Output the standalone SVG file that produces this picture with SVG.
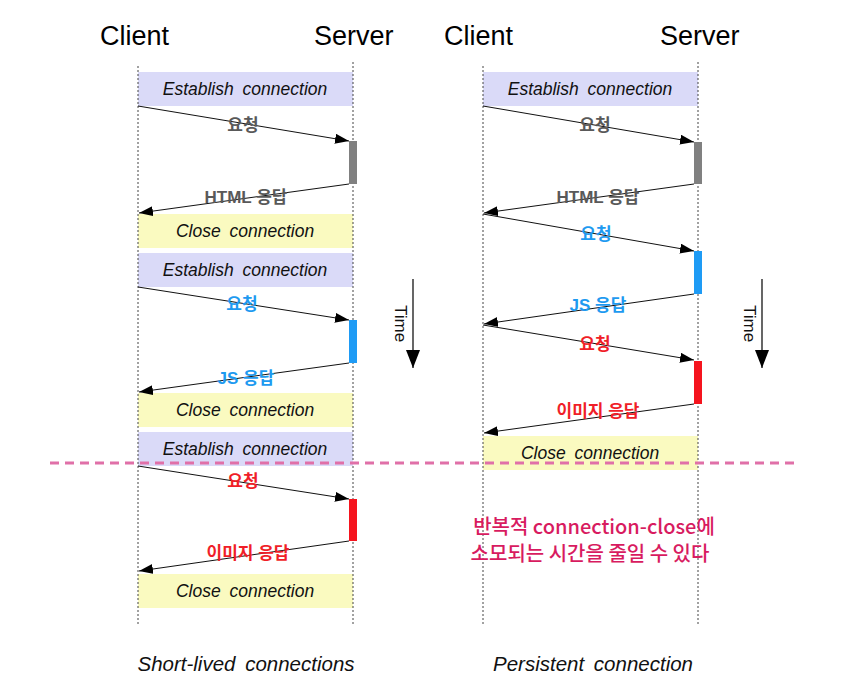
<svg xmlns="http://www.w3.org/2000/svg" width="857" height="698" viewBox="0 0 857 698">
<style>
.title{font-family:"Liberation Sans",Arial,sans-serif;font-size:27px;fill:#000}
.box{font-family:"Liberation Sans",Arial,sans-serif;font-size:17.5px;font-style:italic;fill:#111;text-anchor:middle;word-spacing:4px}
.est{fill:#dadaf8}
.cls{fill:#fafac0}
.life{stroke:#444;stroke-width:1;stroke-dasharray:2,2;fill:none}
.msg{stroke:#111;stroke-width:1;fill:none;marker-end:url(#ah)}
.lbl{font-family:"Liberation Sans","Noto Sans CJK KR",Arial,sans-serif;font-size:17px;font-weight:bold;text-anchor:middle}
.g{fill:#595959}.b{fill:#1e9af0}.r{fill:#f01e28}
.cap{font-family:"Liberation Sans",Arial,sans-serif;font-size:20.5px;font-style:italic;fill:#111;text-anchor:middle;word-spacing:4px}
.note{font-family:"Noto Sans CJK KR","Liberation Sans",sans-serif;font-size:20px;font-weight:500;fill:#d81b60;text-anchor:middle}
.time{font-family:"Liberation Sans",Arial,sans-serif;font-size:17px;fill:#111}
</style>
<defs>
<marker id="ah" viewBox="0 0 14 10" refX="14" refY="5" markerWidth="14" markerHeight="10" markerUnits="userSpaceOnUse" orient="auto">
<path d="M0,0 L14,5 L0,10 Z" fill="#000"/>
</marker>
<marker id="ta" viewBox="0 0 14 18" refX="7" refY="18" markerWidth="14" markerHeight="18" markerUnits="userSpaceOnUse" orient="0">
<path d="M0,0 L14,0 L7,18 Z" fill="#000"/>
</marker>
</defs>

<g id="titles">
<text class="title" x="100" y="45">Client</text>
<text class="title" x="314" y="45">Server</text>
<text class="title" x="444" y="45">Client</text>
<text class="title" x="660" y="45">Server</text>
</g>

<g id="boxes-left">
<g id="l-est1"><rect class="est" x="138" y="72" width="215" height="34"/><text class="box" x="245" y="95">Establish connection</text></g>
<g id="l-cls1"><rect class="cls" x="138" y="214" width="215" height="34"/><text class="box" x="245" y="237">Close connection</text></g>
<g id="l-est2"><rect class="est" x="138" y="253" width="215" height="34"/><text class="box" x="245" y="276">Establish connection</text></g>
<g id="l-cls2"><rect class="cls" x="138" y="393" width="215" height="34"/><text class="box" x="245" y="416">Close connection</text></g>
<g id="l-est3"><rect class="est" x="138" y="432" width="215" height="34"/><text class="box" x="245" y="455">Establish connection</text></g>
<g id="l-cls3"><rect class="cls" x="138" y="574" width="215" height="34"/><text class="box" x="245" y="597">Close connection</text></g>
</g>

<g id="boxes-right">
<g id="r-est1"><rect class="est" x="483" y="72" width="215" height="34"/><text class="box" x="590" y="95">Establish connection</text></g>
<g id="r-cls1"><rect class="cls" x="483" y="436" width="215" height="34"/><text class="box" x="590" y="459">Close connection</text></g>
</g>

<g id="lifelines">
<line class="life" x1="138" y1="66" x2="138" y2="625"/>
<line class="life" x1="353" y1="62" x2="353" y2="625"/>
<line class="life" x1="483" y1="66" x2="483" y2="625"/>
<line class="life" x1="698" y1="62" x2="698" y2="625"/>
</g>

<g id="bars">
<rect x="349" y="141" width="8" height="43" fill="#808080"/>
<rect x="349" y="320" width="8" height="43" fill="#1e9bf5"/>
<rect x="349" y="499" width="8" height="42" fill="#f5141e"/>
<rect x="694" y="142" width="8" height="42" fill="#808080"/>
<rect x="694" y="251" width="8" height="43" fill="#1e9bf5"/>
<rect x="694" y="361" width="8" height="43" fill="#f5141e"/>
</g>

<g id="connectors">
<line class="msg" x1="138" y1="106" x2="349" y2="141"/>
<line class="msg" x1="349" y1="184" x2="139" y2="213"/>
<line class="msg" x1="138" y1="287" x2="349" y2="320"/>
<line class="msg" x1="349" y1="363" x2="139" y2="392"/>
<line class="msg" x1="138" y1="466" x2="349" y2="499"/>
<line class="msg" x1="349" y1="541" x2="139" y2="571"/>
<line class="msg" x1="483" y1="106" x2="694" y2="142"/>
<line class="msg" x1="694" y1="184" x2="484" y2="213"/>
<line class="msg" x1="483" y1="214" x2="694" y2="251"/>
<line class="msg" x1="694" y1="294" x2="484" y2="324"/>
<line class="msg" x1="483" y1="325" x2="694" y2="360"/>
<line class="msg" x1="694" y1="404" x2="484" y2="433"/>
</g>

<g id="labels">
<text class="lbl g" x="243" y="131">요청</text>
<text class="lbl g" x="246" y="203">HTML 응답</text>
<text class="lbl b" x="242" y="310">요청</text>
<text class="lbl b" x="246" y="384">JS 응답</text>
<text class="lbl r" x="243" y="487">요청</text>
<text class="lbl r" x="248" y="559">이미지 응답</text>
<text class="lbl g" x="595" y="131">요청</text>
<text class="lbl g" x="598" y="203">HTML 응답</text>
<text class="lbl b" x="596" y="240">요청</text>
<text class="lbl b" x="598" y="311">JS 응답</text>
<text class="lbl r" x="595" y="350">요청</text>
<text class="lbl r" x="598" y="417">이미지 응답</text>
</g>

<line id="divider" x1="50" y1="463" x2="795" y2="463" stroke="#e070a8" stroke-width="3" stroke-dasharray="9,6"/>

<g id="time-left">
<line x1="413" y1="279" x2="413" y2="368" stroke="#000" stroke-width="1.2" marker-end="url(#ta)"/>
<text class="time" transform="translate(395,305) rotate(90)">Time</text>
</g>
<g id="time-right">
<line x1="762" y1="279" x2="762" y2="368" stroke="#000" stroke-width="1.2" marker-end="url(#ta)"/>
<text class="time" transform="translate(744,305) rotate(90)">Time</text>
</g>

<g id="note">
<text class="note" x="594" y="534">반복적 connection-close에</text>
<text class="note" x="590" y="561">소모되는 시간을 줄일 수 있다</text>
</g>

<g id="captions">
<text class="cap" x="246" y="671">Short-lived connections</text>
<text class="cap" x="593" y="671">Persistent connection</text>
</g>
</svg>
